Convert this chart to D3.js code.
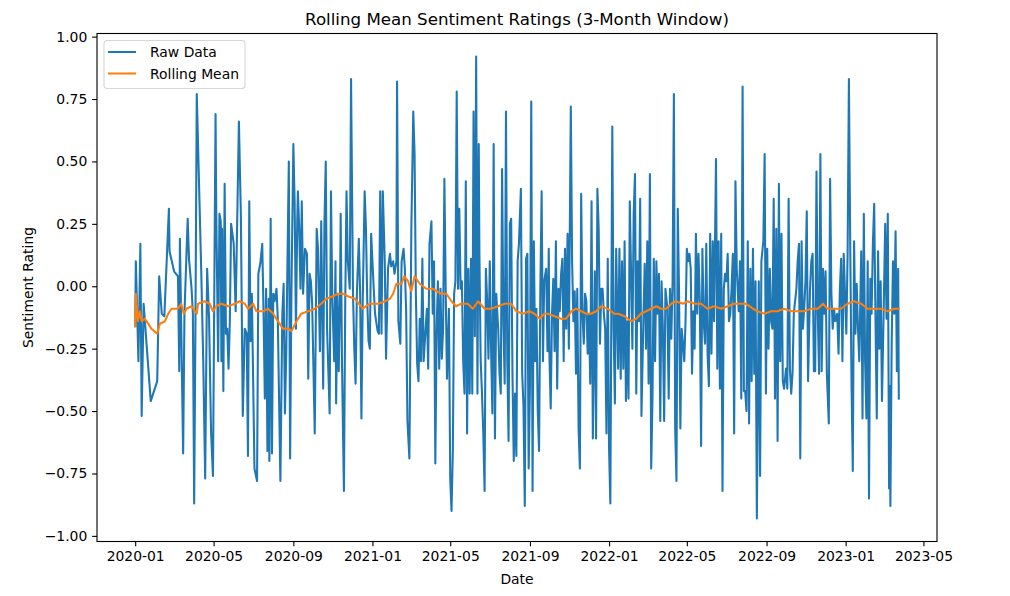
<!DOCTYPE html>
<html>
<head>
<meta charset="utf-8">
<script src="https://cdn.jsdelivr.net/npm/d3@7"></script>
<style>
  html, body { margin: 0; padding: 0; background: #fff; }
  svg { display: block; font-family: "DejaVu Sans", sans-serif; }
</style>
</head>
<body>
<svg id="chart" width="1010" height="596"></svg>
<script>
// data: [days since startDate, value]
const startDate = "2020-01-01";

const raw2020 = [
  [0,-0.16],[1,0.10],[5,-0.30],[8,0.17],[10,-0.52],[13,-0.07],[24,-0.46],[34,-0.38],[37,0.04],[41,-0.11],
  [45,-0.12],[52,0.31],[53,0.14],[60,0.06],[66,0.04],[68,-0.34],[69,0.19],[74,-0.67],[76,-0.11],[81,0.27],
  [83,0.11],[87,-0.01],[89,-0.11],[91,-0.87],[93,-0.13],[95,0.77],[102,0.05],[105,-0.30],[108,-0.77],[111,0.07],
  [114,-0.13],[117,-0.58],[120,-0.76],[124,0.69],[125,0.31],[128,-0.30],[130,0.29],[132,0.26],[133,-0.30],[134,0.23],
  [136,-0.42],[138,0.41],[140,-0.19],[142,-0.17],[144,-0.33],[146,-0.14],[148,0.25],[152,0.17],[155,-0.10],[160,0.66],
  [163,0.29],[166,-0.52],[169,-0.17],[172,-0.19],[174,-0.68],[176,0.34],[178,-0.22],[180,-0.03],[184,-0.73],[188,-0.78],
  [190,0.05],[193,0.09],[196,0.17],[198,-0.10],[200,-0.45],[202,-0.01],[204,-0.66],[206,-0.05],[207,-0.70],[209,0.27],
  [211,-0.67],[213,-0.03],[215,-0.06],[218,-0.01],[220,-0.13],[224,-0.78],[227,-0.11],[229,0.01],[231,-0.51],[233,-0.27],
  [237,0.50],[239,-0.69],[241,-0.03],[244,0.57],[246,0.33],[248,-0.17],[250,0.26],[251,0.38],[253,0.23],[255,-0.01],
  [257,0.34],[259,-0.03],[262,0.15],[265,0.13],[267,-0.37],[269,0.05],[271,0.02],[273,-0.07],[277,-0.59],[280,0.23],
  [282,0.15],[285,-0.26],[287,0.26],[290,-0.41],[292,0.26],[294,0.50],[296,-0.17],[300,-0.51],[302,0.38],[304,-0.03],
  [307,-0.30],[309,0.10],[310,-0.47],[312,-0.03],[314,-0.34],[316,-0.03],[317,0.29],[319,-0.30],[322,-0.82],[324,-0.07],
  [326,0.38],[328,0.10],[331,-0.01],[333,0.83],[336,-0.03],[338,-0.25],[340,-0.39],[342,-0.03],[345,0.19],[347,-0.03],
  [349,-0.53],[351,-0.06],[354,0.38],[356,0.23],[358,-0.06],[360,-0.22],[362,-0.25],[364,0.21]
];

const raw2021 = [
  [366,0.10],[368,-0.01],[370,-0.11],[374,-0.18],[376,-0.19],[378,0.38],[380,-0.19],[382,0.38],[385,0.10],[387,-0.29],
  [390,0.07],[393,0.13],[395,0.08],[398,0.10],[400,0.05],[403,0.10],[404,0.82],[406,-0.14],[409,-0.23],[411,0.10],
  [414,0.15],[416,0.07],[418,-0.10],[420,-0.54],[423,-0.69],[426,0.23],[429,0.70],[431,0.53],[433,-0.03],[435,-0.31],
  [437,-0.38],[439,-0.13],[441,-0.30],[443,0.11],[445,-0.30],[448,-0.17],[450,-0.09],[452,-0.33],[454,0.17],[457,0.26],
  [459,-0.11],[461,0.10],[463,-0.71],[465,-0.17],[467,0.02],[469,-0.33],[471,-0.01],[473,-0.29],[475,-0.17],[477,0.43],
  [479,-0.01],[481,-0.37],[484,-0.09],[486,-0.77],[488,-0.90],[490,-0.66],[492,-0.03],[494,0.02],[496,0.78],[498,-0.01],
  [500,0.31],[502,-0.01],[504,0.02],[506,-0.30],[508,-0.43],[510,0.42],[512,-0.59],[514,0.07],[516,-0.43],[518,0.11],
  [520,-0.43],[522,0.70],[524,-0.20],[526,0.92],[528,-0.43],[530,0.57],[531,0.13],[533,-0.30],[535,-0.43],[537,-0.59],
  [539,-0.82],[541,0.07],[543,-0.06],[545,-0.29],[547,0.10],[549,-0.25],[551,-0.51],[553,0.57],[555,-0.61],[557,-0.03],
  [560,-0.17],[562,-0.35],[564,-0.43],[566,0.47],[568,-0.14],[570,-0.39],[572,0.70],[574,-0.30],[576,-0.62],[578,0.25],
  [580,0.27],[582,-0.35],[584,-0.70],[586,-0.43],[588,-0.68],[590,0.10],[592,0.17],[595,0.39],[597,-0.35],[599,-0.48],
  [601,-0.88],[603,0.11],[605,0.13],[607,-0.73],[609,-0.39],[611,0.74],[613,-0.82],[615,0.18],[617,-0.30],[619,-0.09],
  [621,-0.50],[623,-0.66],[625,-0.01],[627,0.38],[629,-0.30],[631,0.02],[634,0.07],[636,-0.26],[638,0.15],[639,-0.27],
  [641,-0.49],[643,-0.11],[645,0.03],[647,-0.26],[649,0.18],[651,-0.41],[653,-0.01],[655,-0.10],[657,0.05],[659,0.11],
  [661,-0.30],[663,0.15],[665,-0.17],[667,0.21],[669,-0.25],[672,0.72],[674,0.10],[676,-0.14],[678,-0.02],[680,-0.35],
  [682,-0.01],[684,-0.57],[686,-0.73],[688,0.37],[690,-0.11],[692,-0.23],[694,-0.03],[696,-0.06],[698,-0.27],[700,-0.11],
  [702,-0.39],[704,0.34],[706,-0.61],[709,0.06],[711,-0.61],[713,0.39],[715,0.23],[717,-0.23],[719,-0.01],[721,-0.01],
  [723,-0.11],[725,-0.17],[727,-0.59],[729,0.11]
];

const raw2022 = [
  [731,-0.65],[733,-0.87],[736,0.64],[738,-0.17],[740,-0.47],[742,0.15],[745,-0.33],[747,0.15],[749,-0.37],[751,0.10],
  [753,-0.33],[755,0.18],[757,-0.46],[759,-0.14],[761,-0.45],[763,0.34],[765,0.05],[767,-0.25],[769,0.29],[771,0.45],
  [773,-0.43],[775,0.10],[777,-0.14],[779,0.35],[781,-0.52],[784,-0.13],[786,0.09],[788,-0.25],[790,0.18],[792,-0.39],
  [794,0.45],[796,-0.73],[798,-0.45],[800,0.11],[802,-0.30],[804,0.10],[806,-0.11],[808,0.05],[810,-0.54],[812,0.02],
  [814,-0.17],[816,-0.54],[818,-0.01],[821,-0.09],[823,-0.45],[825,-0.01],[827,-0.21],[829,0.02],[831,0.77],[833,-0.57],
  [835,-0.78],[837,0.31],[839,-0.03],[841,-0.57],[843,-0.17],[845,-0.23],[847,-0.30],[849,-0.14],[851,0.15],[853,0.10],
  [855,0.13],[857,0.07],[859,-0.35],[861,-0.10],[863,-0.25],[865,0.21],[867,-0.11],[869,0.13],[871,-0.06],[873,-0.64],
  [875,0.15],[877,-0.14],[879,-0.23],[881,0.17],[883,-0.27],[885,-0.40],[887,0.21],[889,-0.27],[891,0.18],[893,-0.14],
  [896,0.51],[898,-0.33],[900,0.18],[902,-0.41],[904,0.21],[906,-0.82],[908,-0.01],[910,0.05],[912,0.02],[914,0.13],
  [916,-0.14],[918,-0.11],[920,-0.01],[922,0.13],[924,-0.59],[926,0.42],[928,0.07],[931,-0.10],[933,0.10],[935,-0.45],
  [937,0.80],[939,-0.42],[941,-0.42],[943,-0.50],[945,0.18],[947,-0.55],[949,0.07],[951,-0.38],[953,0.15],[955,-0.35],
  [957,0.02],[959,-0.93],[962,0.02],[964,-0.76],[966,0.10],[969,0.18],[971,0.53],[973,-0.43],[975,0.15],[977,-0.25],
  [979,0.07],[981,-0.14],[983,-0.17],[985,0.35],[987,-0.45],[989,0.23],[991,-0.62],[993,0.41],[995,-0.30],[997,0.21],
  [999,-0.38],[1001,-0.41],[1004,-0.33],[1006,-0.41],[1008,0.35],[1010,-0.33],[1012,-0.43],[1014,-0.35],[1016,-0.11],[1018,-0.06],
  [1020,-0.01],[1022,0.10],[1024,0.17],[1026,-0.69],[1028,0.18],[1030,-0.17],[1032,-0.09],[1034,0.02],[1036,0.30],[1038,-0.38],
  [1041,-0.01],[1043,0.10],[1045,0.13],[1047,-0.34],[1049,-0.34],[1051,0.46],[1053,-0.11],[1055,-0.35],[1057,0.53],[1059,-0.34],
  [1061,0.07],[1063,-0.11],[1065,0.06],[1067,-0.35],[1070,-0.55],[1072,0.43],[1074,-0.03],[1076,-0.17],[1078,-0.09],[1080,-0.14],
  [1083,-0.11],[1085,-0.27],[1087,-0.02],[1089,0.11],[1091,-0.30],[1093,0.13],[1095,-0.03]
];

const raw2023 = [
  [1097,-0.19],[1099,0.13],[1101,0.83],[1103,0.18],[1105,-0.38],[1107,-0.74],[1109,0.18],[1111,-0.19],[1113,0.01],[1115,-0.17],
  [1117,-0.30],[1120,0.14],[1122,-0.53],[1124,0.29],[1126,-0.30],[1128,-0.53],[1130,0.10],[1132,-0.85],[1134,0.03],[1136,-0.11],
  [1138,0.17],[1140,0.33],[1142,-0.13],[1144,-0.53],[1146,0.14],[1148,-0.25],[1150,0.02],[1152,-0.46],[1154,-0.19],[1157,0.25],
  [1159,-0.13],[1161,0.29],[1163,-0.81],[1164,-0.40],[1165,-0.88],[1167,-0.23],[1169,0.10],[1171,-0.11],[1173,0.22],[1175,-0.34],
  [1177,0.07],[1178,-0.45]
];

// 3-month rolling mean as drawn
const rollingMean = [
  [0,-0.16],[1,-0.03],[4,-0.14],[7,-0.10],[10,-0.14],[15,-0.13],[25,-0.17],[34,-0.19],[38,-0.15],[46,-0.14],
  [51,-0.11],[56,-0.09],[66,-0.09],[71,-0.07],[75,-0.11],[79,-0.09],[87,-0.08],[95,-0.11],[97,-0.07],[107,-0.06],
  [115,-0.07],[120,-0.10],[125,-0.08],[133,-0.07],[143,-0.08],[154,-0.07],[161,-0.06],[169,-0.07],[174,-0.09],[182,-0.07],
  [187,-0.10],[197,-0.10],[205,-0.09],[213,-0.11],[220,-0.14],[228,-0.17],[236,-0.17],[241,-0.18],[249,-0.14],[256,-0.11],
  [267,-0.10],[277,-0.09],[287,-0.07],[295,-0.05],[305,-0.04],[313,-0.03],[321,-0.03],[328,-0.04],[339,-0.05],[351,-0.09],
  [362,-0.07],[375,-0.07],[385,-0.06],[393,-0.05],[398,-0.03],[403,0.01],[411,0.01],[415,0.04],[421,0.02],[426,-0.02],
  [431,0.04],[439,0.01],[449,-0.01],[459,-0.01],[472,-0.03],[480,-0.03],[488,-0.06],[495,-0.08],[503,-0.07],[513,-0.07],
  [521,-0.09],[529,-0.06],[539,-0.09],[549,-0.09],[560,-0.08],[570,-0.07],[580,-0.07],[588,-0.10],[598,-0.11],[608,-0.10],
  [616,-0.11],[624,-0.13],[631,-0.11],[637,-0.11],[647,-0.12],[657,-0.13],[665,-0.13],[673,-0.10],[680,-0.09],[688,-0.10],
  [696,-0.11],[703,-0.11],[711,-0.10],[719,-0.08],[729,-0.09],[739,-0.11],[745,-0.11],[755,-0.12],[765,-0.14],[773,-0.13],
  [780,-0.11],[788,-0.10],[796,-0.09],[804,-0.08],[811,-0.09],[819,-0.09],[827,-0.07],[834,-0.06],[845,-0.07],[852,-0.06],
  [863,-0.07],[873,-0.07],[883,-0.09],[893,-0.08],[904,-0.09],[914,-0.08],[924,-0.07],[935,-0.07],[942,-0.07],[953,-0.09],
  [960,-0.10],[971,-0.11],[981,-0.10],[991,-0.10],[1001,-0.09],[1012,-0.10],[1022,-0.10],[1032,-0.10],[1043,-0.09],[1053,-0.09],
  [1061,-0.07],[1068,-0.09],[1078,-0.09],[1089,-0.09],[1099,-0.07],[1109,-0.06],[1120,-0.07],[1130,-0.09],[1140,-0.09],[1150,-0.09],
  [1161,-0.10],[1171,-0.09],[1178,-0.09]
];

const yTickValues = [-1.00, -0.75, -0.50, -0.25, 0.00, 0.25, 0.50, 0.75, 1.00];
const seriesNames = ["Raw Data", "Rolling Mean"];
const seriesColors = ["#1f77b4", "#ff7f0e"];

(function () {
  const t0 = Date.parse(startDate + "T00:00:00Z");
  const toPoint = p => ({ date: new Date(t0 + p[0] * 864e5), value: p[1] });

  const raw = raw2020.concat(raw2021, raw2022, raw2023).map(toPoint);
  const mean = rollingMean.map(toPoint);

  const width = 1010, height = 596;
  const margin = { top: 33.5, right: 73, bottom: 54.5, left: 97 };
  const fs = 13.9;          // 10pt at 100dpi
  const tick = 4.86;        // 3.5pt

  // matplotlib-like 5% padding on both axes
  const pad = (lo, hi) => { const d = (hi - lo) * 0.05; return [lo - d, hi + d]; };
  const xExt = d3.extent(raw, d => +d.date);
  const yExt = d3.extent(raw, d => d.value);
  const xd = pad(xExt[0], xExt[1]);
  const yd = pad(yExt[0], yExt[1]);

  const x = d3.scaleUtc()
    .domain([new Date(xd[0]), new Date(xd[1])])
    .range([margin.left, width - margin.right]);

  const y = d3.scaleLinear()
    .domain(yd)
    .range([height - margin.bottom, margin.top]);

  const svg = d3.select("#chart");

  const line = d3.line()
    .x(d => x(d.date))
    .y(d => y(d.value));

  const plot = svg.append("g");

  plot.append("clipPath").attr("id", "clip")
    .append("rect")
    .attr("x", margin.left).attr("y", margin.top)
    .attr("width", width - margin.left - margin.right)
    .attr("height", height - margin.top - margin.bottom);

  const lines = plot.append("g")
    .attr("clip-path", "url(#clip)")
    .attr("fill", "none")
    .attr("stroke-width", 2.08)
    .attr("stroke-linejoin", "round")
    .attr("stroke-linecap", "square");

  lines.append("path").datum(raw)
    .attr("stroke", seriesColors[0])
    .attr("d", line);

  lines.append("path").datum(mean)
    .attr("stroke", seriesColors[1])
    .attr("d", line);

  // axes
  const xAxis = g => g
    .attr("transform", `translate(0,${height - margin.bottom})`)
    .call(d3.axisBottom(x)
      .ticks(d3.utcMonth.every(4))
      .tickFormat(d3.utcFormat("%Y-%m"))
      .tickSize(tick).tickPadding(tick))
    .call(g => g.select(".domain").remove());

  const yAxis = g => g
    .attr("transform", `translate(${margin.left},0)`)
    .call(d3.axisLeft(y)
      .tickValues(yTickValues)
      .tickFormat(d3.format(".2f"))
      .tickSize(tick).tickPadding(tick))
    .call(g => g.select(".domain").remove());

  [svg.append("g").call(xAxis), svg.append("g").call(yAxis)].forEach(g => {
    g.attr("font-family", "DejaVu Sans, sans-serif").attr("font-size", fs);
    g.selectAll(".tick line").attr("stroke", "#000").attr("stroke-width", 1.11);
    g.selectAll(".tick text").attr("fill", "#000");
  });

  // spines
  svg.append("rect")
    .attr("x", margin.left).attr("y", margin.top)
    .attr("width", width - margin.left - margin.right)
    .attr("height", height - margin.top - margin.bottom)
    .attr("fill", "none")
    .attr("stroke", "#000")
    .attr("stroke-width", 1.11);

  // title + labels
  svg.append("text")
    .attr("x", (margin.left + width - margin.right) / 2)
    .attr("y", margin.top - 8.3)
    .attr("text-anchor", "middle")
    .attr("font-size", 16.67)
    .text("Rolling Mean Sentiment Ratings (3-Month Window)");

  svg.append("text")
    .attr("x", (margin.left + width - margin.right) / 2)
    .attr("y", 584)
    .attr("text-anchor", "middle")
    .attr("font-size", fs)
    .text("Date");

  svg.append("text")
    .attr("transform", `translate(33,${(margin.top + height - margin.bottom) / 2}) rotate(-90)`)
    .attr("text-anchor", "middle")
    .attr("font-size", fs)
    .text("Sentiment Rating");

  // legend
  const lg = svg.append("g")
    .attr("transform", `translate(${margin.left + 7},${margin.top + 7})`)
    .attr("font-size", fs);

  const frame = lg.append("rect")
    .attr("rx", 3).attr("ry", 3)
    .attr("fill", "#fff").attr("fill-opacity", 0.8)
    .attr("stroke", "#cccccc").attr("stroke-opacity", 0.8)
    .attr("stroke-width", 1.11);

  let maxW = 0;
  seriesNames.forEach((name, i) => {
    const cy = 11.5 + i * 21.5;
    lg.append("line")
      .attr("x1", 4).attr("x2", 32)
      .attr("y1", cy).attr("y2", cy)
      .attr("stroke", seriesColors[i])
      .attr("stroke-width", 2.08);
    const t = lg.append("text")
      .attr("x", 46).attr("y", cy)
      .attr("dy", "0.36em")
      .text(name);
    maxW = Math.max(maxW, t.node().getComputedTextLength());
  });

  frame.attr("x", 0).attr("y", 0)
    .attr("width", 46 + maxW + 6)
    .attr("height", 48);
}());
</script>
</body>
</html>
